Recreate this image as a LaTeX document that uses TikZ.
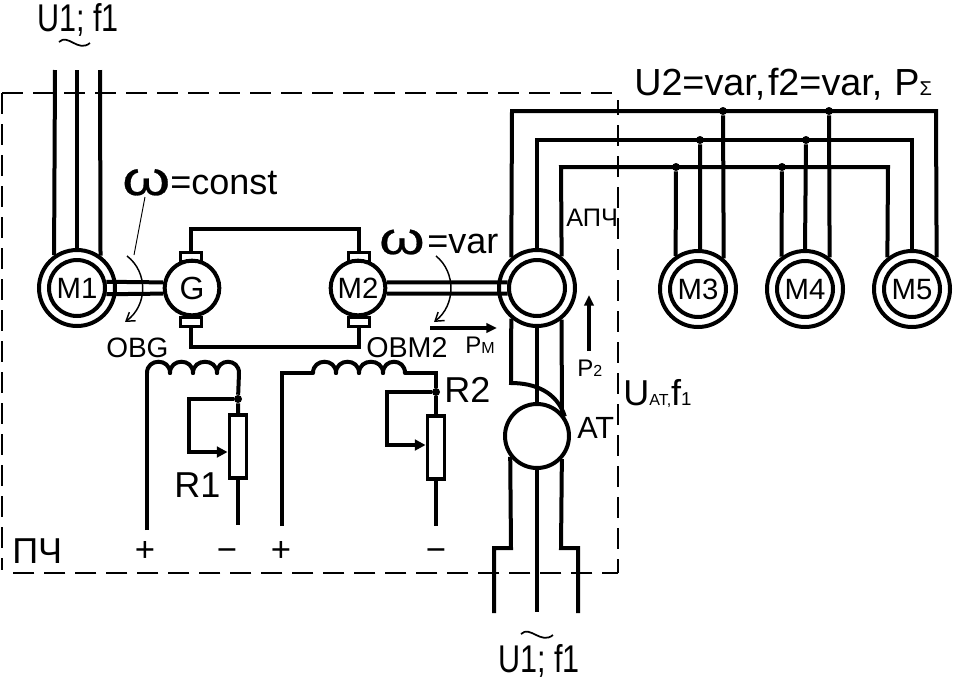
\documentclass[tikz,border=0pt]{standalone}
\usepackage{fontspec}
\setmainfont{Liberation Sans}
\newfontfamily\narrowfont[FakeStretch=0.79]{Liberation Sans}
\newfontfamily\omegafont[FakeStretch=1.28,FakeBold=0.6]{Liberation Sans}
\usepackage{tikz}
\usetikzlibrary{arrows.meta, positioning, calc}

\newcommand{\subtxt}[1]{{\fontsize{12}{12}\selectfont #1}}
\tikzset{
    wire/.style={line width=3pt},
    thinwire/.style={line width=1.1pt},
    frameline/.style={line width=1.1pt, dash pattern=on 15.75pt off 7.5pt},
    outerring/.style={circle, draw, line width=3pt, inner sep=0pt, minimum size=57pt},
    innerring/.style={circle, draw, line width=3pt, inner sep=0pt, minimum size=42pt, text height=15pt, text depth=0pt, font=\fontsize{22}{22}\selectfont},
    machine/.style={circle, draw, line width=3pt, inner sep=0pt, minimum size=41pt, font=\fontsize{22}{22}\selectfont},
    brush/.style={rectangle, draw, line width=2.3pt, inner sep=0pt, minimum width=16pt, minimum height=7pt},
    resistor/.style={rectangle, draw, line width=2.7pt, inner sep=0pt, minimum width=13pt, minimum height=47.6pt},
    junction/.style={circle, fill, inner sep=0pt, minimum size=6pt},
    bigtext/.style={anchor=base west, inner sep=0pt, font=\fontsize{27}{27}\selectfont},
    midtext/.style={anchor=base west, inner sep=0pt, font=\fontsize{21}{21}\selectfont},
    smalltext/.style={anchor=base west, inner sep=0pt, font=\fontsize{18}{18}\selectfont},
    signtext/.style={anchor=base, inner sep=0pt, font=\fontsize{26}{26}\selectfont},
    wiper/.style={wire, -{Triangle[length=8pt,width=8pt]}},
    flow/.style={wire, -{Triangle[length=8pt,width=7pt]}},
    spin/.style={thinwire, -{Straight Barb[length=6pt,width=8pt]}}
}

\begin{document}
\begin{tikzpicture}[x=0.75pt, y=-0.75pt]
    \useasboundingbox (0,0) rectangle (953,679);

    % machines
    \node[outerring] (M1) at (77,288) {};
    \node[innerring] (M1in) at (M1) {M1};
    \node[machine, font=\fontsize{24}{24}\selectfont] (G) at (192,288) {G};
    \node[machine, text height=15pt, text depth=0pt] (M2) at (358,288) {M2};
    \node[outerring] (APCH) at (537,288) {};
    \node[innerring] (APCHin) at (APCH) {};
    \node[outerring] (M3) at (698,289) {};
    \node[innerring] (M3in) at (M3) {M3};
    \node[outerring] (M4) at (805,289) {};
    \node[innerring] (M4in) at (M4) {M4};
    \node[outerring] (M5) at (912,289) {};
    \node[innerring] (M5in) at (M5) {M5};
    \node[machine, minimum size=48pt] (AT) at (537,436) {};

    % brushes
    \node[brush] (Gtop) at (191,257) {};
    \node[brush] (Gbot) at (191,322) {};
    \node[brush] (M2top) at (359,257) {};
    \node[brush] (M2bot) at (359,322) {};

    % supply to M1
    \coordinate (inA) at (55,70);
    \coordinate (inB) at (77,70);
    \coordinate (inC) at (100,70);
    \draw[wire] (inA) -- (M1.125);
    \draw[wire] (inB) -- (M1.north);
    \draw[wire] (inC) -- (M1.54);

    % shafts
    \draw[wire] (M1in.12) -- (G.169);
    \draw[wire] (M1in.-12) -- (G.191);
    \draw[wire] (M2.11) -- (APCHin.169);
    \draw[wire] (M2.-11) -- (APCHin.191);

    % loop between G and M2
    \coordinate (loopA) at (191,229);
    \coordinate (loopB) at (359,229);
    \coordinate (loopC) at (191,347);
    \coordinate (loopD) at (359,347);
    \draw[wire] (Gtop.north) -- (loopA) -- (loopB) -- (M2top.north);
    \draw[wire] (Gbot.south) -- (loopC) -- (loopD) -- (M2bot.south);

    % buses
    \coordinate (busA) at (512,111);
    \coordinate (busB) at (936,111);
    \coordinate (busC) at (537,140);
    \coordinate (busD) at (912,140);
    \coordinate (busE) at (561,167);
    \coordinate (busF) at (888,167);
    \draw[wire] (APCH.130) -- (busA) -- (busB) -- (M5.52);
    \draw[wire] (APCH.north) -- (busC) -- (busD) -- (M5.north);
    \draw[wire] (APCH.52) -- (busE) -- (busF) -- (M5.128);

    \node[junction] (tapA) at (723,111) {};
    \node[junction] (tapB) at (700,140) {};
    \node[junction] (tapC) at (676,167) {};
    \node[junction] (tapD) at (829,111) {};
    \node[junction] (tapE) at (806,140) {};
    \node[junction] (tapF) at (782,167) {};
    \draw[wire] (tapA) -- (M3.50);
    \draw[wire] (tapB) -- (M3.87);
    \draw[wire] (tapC) -- (M3.124);
    \draw[wire] (tapD) -- (M4.52);
    \draw[wire] (tapE) -- (M4.north);
    \draw[wire] (tapF) -- (M4.126);

    % autotransformer
    \coordinate (bendA) at (511,383);
    \draw[wire] (APCH.230) -- (bendA) .. controls (535,383) and (557,392) .. (AT.35);
    \draw[wire] (APCH.south) -- (AT.north);
    \draw[wire] (APCH.308) -- (AT.43);

    \coordinate (stepA) at (511,548);
    \coordinate (stepB) at (494,548);
    \coordinate (endA) at (494,613);
    \coordinate (stepC) at (561,548);
    \coordinate (stepD) at (578,548);
    \coordinate (endC) at (578,613);
    \coordinate (endB) at (537,612);
    \draw[wire] (AT.218) -- (stepA) -- (stepB) -- (endA);
    \draw[wire] (AT.south) -- (endB);
    \draw[wire] (AT.317) -- (stepC) -- (stepD) -- (endC);

    % field winding OBG and R1
    \foreach \xa/\xb in {147/170,170/193,193/217,217/239}
        \draw[wire, line cap=round] (\xa,373) .. controls (\xa,358) and (\xb,358) .. (\xb,373);
    \coordinate (coilA) at (147,373);
    \coordinate (plusA) at (147,530);
    \coordinate (coilB) at (239,373);
    \node[junction] (dotA) at (238,399) {};
    \node[resistor] (R1box) at (238,446.5) {};
    \coordinate (minusA) at (238,525);
    \coordinate (wipeA) at (189,399);
    \coordinate (wipeB) at (189,452);
    \draw[wire] (plusA) -- (coilA);
    \draw[wire] (coilB) -- (dotA) -- (R1box.north);
    \draw[wire] (R1box.south) -- (minusA);
    \draw[wiper] (dotA) -- (wipeA) -- (wipeB) -- (wipeB -| R1box.west);

    % field winding OBM2 and R2
    \foreach \xa/\xb in {313/336,336/359,359/383,383/405}
        \draw[wire, line cap=round] (\xa,373) .. controls (\xa,358) and (\xb,358) .. (\xb,373);
    \coordinate (coilC) at (313,373);
    \coordinate (cornerC) at (282,373);
    \coordinate (plusB) at (282,526);
    \coordinate (coilD) at (405,373);
    \coordinate (cornerD) at (436,373);
    \node[junction] (dotB) at (436,392) {};
    \node[resistor] (R2box) at (436,447.5) {};
    \coordinate (minusB) at (436,526);
    \coordinate (wipeC) at (387,392);
    \coordinate (wipeD) at (387,445);
    \draw[wire] (plusB) -- (cornerC) -- (coilC);
    \draw[wire] (coilD) -- (cornerD) -- (dotB) -- (R2box.north);
    \draw[wire] (R2box.south) -- (minusB);
    \draw[wiper] (dotB) -- (wipeC) -- (wipeD) -- (wipeD -| R2box.west);

    % frame
    \draw[frameline] (2,93) -- (615,93);
    \draw[frameline] (2,93) -- (2,570);
    \draw[frameline, dash phase=5pt] (618,573) -- (618,100);
    \draw[frameline, dash phase=4pt] (618,573) -- (8,573);

    % rotation marks and power arrows
    \coordinate (leadA) at (145,197);
    \coordinate (leadB) at (134,255);
    \draw[line width=0.7pt] (leadA) -- (leadB);
    \coordinate (spinA) at (127,256);
    \coordinate (spinB) at (125,322);
    \draw[spin] (spinA) .. controls (148,272) and (148,305) .. (spinB);
    \coordinate (spinC) at (436,256);
    \coordinate (spinD) at (434,322);
    \draw[spin] (spinC) .. controls (456,272) and (456,305) .. (spinD);
    \coordinate (flowA) at (430,328);
    \coordinate (flowB) at (497,328);
    \draw[flow] (flowA) -- (flowB);
    \coordinate (flowC) at (589,351);
    \coordinate (flowD) at (589,295);
    \draw[flow] (flowC) -- (flowD);
    \coordinate (waveA) at (59,42);
    \coordinate (waveB) at (90,43);
    \draw[line width=1.3pt] (waveA) .. controls (68,33) and (78,53) .. (waveB);
    \coordinate (waveC) at (521,634);
    \coordinate (waveD) at (553,635);
    \draw[line width=1.3pt] (waveC) .. controls (530,625) and (541,645) .. (waveD);

    % labels
    \node[bigtext, font=\fontsize{29}{29}\narrowfont] (topU) at (37,31) {U1; f1};
    \node[bigtext, font=\fontsize{29}{29}\narrowfont] (botU) at (498,672) {U1; f1};
    \node[bigtext, font=\fontsize{36}{36}\omegafont] (omegaA) at (122,195) {ω};
    \node[bigtext, font=\fontsize{27}{27}\selectfont] (constL) at (170,194) {=const};
    \node[bigtext, font=\fontsize{34}{34}\omegafont] (omegaB) at (379,254) {ω};
    \node[bigtext] (varL) at (427,253) {=var};
    \node[midtext] (obgL) at (106,357) {OBG};
    \node[midtext, font=\fontsize{21.5}{21.5}\selectfont] (obmL) at (366,357) {OBM2};
    \node[bigtext] (r1L) at (174,497) {R1};
    \node[bigtext] (r2L) at (444,402) {R2};
    \node[midtext, font=\fontsize{23}{23}\selectfont] (atL) at (577,438) {AT};
    \node[smalltext] (pmL) at (465,353) {P\subtxt{M}};
    \node[smalltext] (p2L) at (577,376) {P\subtxt{2}};
    \node[smalltext, font=\fontsize{19}{19}\selectfont] (apchL) at (566,226) {АПЧ};
    \node[bigtext] (pchL) at (12,563) {ПЧ};
    \node[bigtext] (uatL) at (623,405) {U\subtxt{AT,}f\subtxt{\fontsize{14}{14}\selectfont 1}};
    \node[bigtext, font=\fontsize{28.3}{28.3}\selectfont] (u2L) at (634,95) {U2=var,\kern2pt f2=var,\kern9pt P\subtxt{\fontsize{15}{15}\selectfont Σ}};
    \node[signtext] (plusL) at (145,561) {+};
    \node[signtext] (minusL) at (227,561) {−};
    \node[signtext] (plusM) at (281,561) {+};
    \node[signtext] (minusM) at (436,561) {−};
\end{tikzpicture}
\end{document}
